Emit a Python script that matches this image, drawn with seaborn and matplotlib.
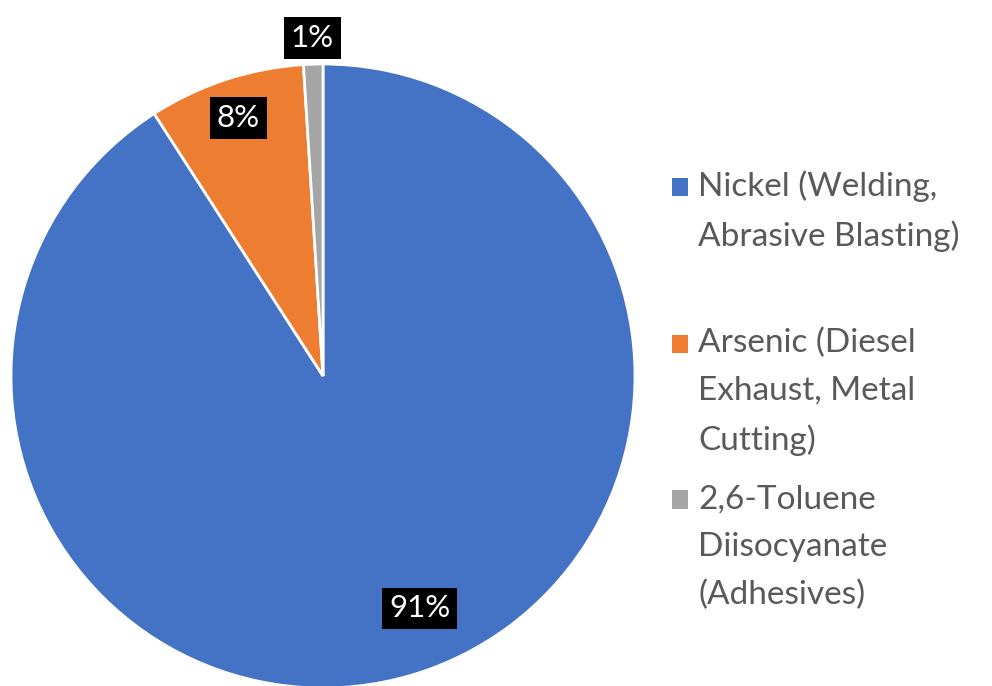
import seaborn as sns
import numpy as np
from matplotlib import pyplot as plt
from matplotlib.patches import Patch, Rectangle
from matplotlib.legend_handler import HandlerPatch

sns.set_theme(style="white")
plt.rcParams['font.family'] = ['Lato', 'DejaVu Sans']

labels = ["Nickel (Welding,\nAbrasive Blasting)",
          "Arsenic (Diesel\nExhaust, Metal\nCutting)",
          "2,6-Toluene\nDiisocyanate\n(Adhesives)"]
values = [90.9, 8.1, 1.0]
colors = ["#4472C4", "#ED7D31", "#A5A5A5"]

fig = plt.figure(figsize=(9.92, 6.86), dpi=100)
ax = fig.add_axes([11/992, -2/686, 624/992, 624/686])

wedges, texts, pcts = ax.pie(values, colors=colors, startangle=90, counterclock=False,
                             autopct=lambda p: f"{p:.0f}%", pctdistance=0.87,
                             wedgeprops=dict(edgecolor="white", linewidth=2))
ax.set_xlim(-1, 1)
ax.set_ylim(-1, 1)
ax.set_aspect("auto")

# excel style best-fit label spots
pcts[0].set_position((0.31, -0.745))
pcts[2].set_position((-0.035, 1.083))
for t in pcts:
    t.set_color("white")
    t.set_fontsize(22.5)
    t.set_bbox(dict(facecolor="black", edgecolor="none", pad=5))
    t.set_clip_on(False)

# excel gives every legend entry the same slot, marker at the first line
nmax = max(l.count("\n") for l in labels) + 1
padded = [l + "\n" * (nmax - 1 - l.count("\n")) for l in labels]
line_pt = 48 * 72 / 100
shift = (nmax - 1) / 2 * line_pt


def top_square(legend, orig_handle, xdescent, ydescent, width, height, fontsize):
    return Rectangle((-xdescent, -ydescent + shift), width, height)


handles = [Patch(facecolor=c, edgecolor="none") for c in colors]
leg = fig.legend(handles, padded, loc="upper left", bbox_to_anchor=(672/992, 1 - 170/686),
                 frameon=False, fontsize=24, labelcolor="#595959",
                 handlelength=0.48, handleheight=0.48, handletextpad=0.3,
                 labelspacing=0.85, borderpad=0, borderaxespad=0, alignment="left",
                 handler_map={Patch: HandlerPatch(patch_func=top_square)})
for t in leg.get_texts():
    t.set_linespacing(1.73)

fig.savefig("out.png", dpi=100)
